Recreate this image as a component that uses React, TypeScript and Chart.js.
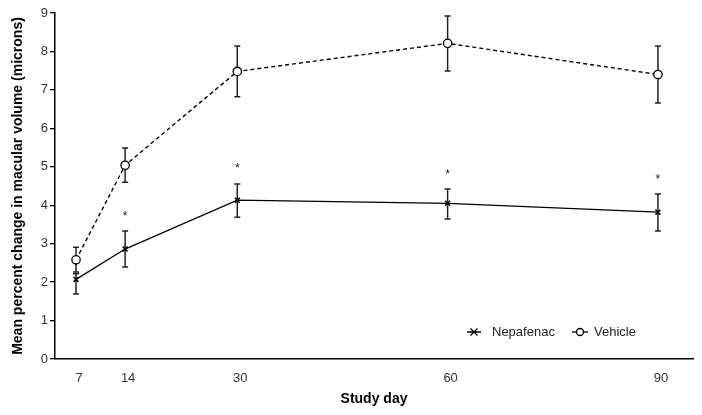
import React, { useEffect, useRef } from "react";
import { Chart, registerables } from "chart.js";

Chart.register(...registerables);

const days = [7, 14, 30, 60, 90];
const xTickValues = [7, 14, 30, 60, 90];
const nepafenacMean = [2.07, 2.86, 4.13, 4.05, 3.82];
const nepafenacLow = [1.69, 2.39, 3.69, 3.64, 3.33];
const nepafenacHigh = [2.22, 3.33, 4.55, 4.42, 4.29];
const vehicleMean = [2.58, 5.04, 7.48, 8.21, 7.4];
const vehicleLow = [2.26, 4.6, 6.82, 7.49, 6.66];
const vehicleHigh = [2.91, 5.49, 8.14, 8.92, 8.14];
const starDays = [14, 30, 60, 90];
const starValues = [3.75, 4.99, 4.84, 4.71];
const seriesNames = ["Nepafenac", "Vehicle"];

const FONT = "'Liberation Sans', Arial, sans-serif";

const errorBarPlugin = {
  id: "errorBars",
  beforeDatasetsDraw(chart: any) {
    const { ctx, scales } = chart;
    const x = scales.x;
    const y = scales.y;
    const sets = [
      [nepafenacLow, nepafenacHigh],
      [vehicleLow, vehicleHigh],
    ];
    ctx.save();
    ctx.strokeStyle = "#222";
    ctx.lineWidth = 1.5;
    sets.forEach(([lo, hi]) => {
      days.forEach((d, i) => {
        const px = x.getPixelForValue(d);
        const y1 = y.getPixelForValue(lo[i]);
        const y2 = y.getPixelForValue(hi[i]);
        ctx.beginPath();
        ctx.moveTo(px, y1);
        ctx.lineTo(px, y2);
        ctx.moveTo(px - 3, y1);
        ctx.lineTo(px + 3, y1);
        ctx.moveTo(px - 3, y2);
        ctx.lineTo(px + 3, y2);
        ctx.stroke();
      });
    });
    ctx.restore();
  },
  afterDraw(chart: any) {
    const { ctx, scales } = chart;
    const x = scales.x;
    const y = scales.y;
    ctx.save();
    // significance asterisks
    ctx.fillStyle = "#222";
    ctx.font = `12px ${FONT}`;
    ctx.textAlign = "center";
    ctx.textBaseline = "middle";
    starDays.forEach((d, i) => {
      ctx.fillText("*", x.getPixelForValue(d), y.getPixelForValue(starValues[i]) + 2);
    });
    // legend
    const ly = 332;
    ctx.strokeStyle = "#000";
    ctx.lineWidth = 1.3;
    ctx.setLineDash([]);
    // Nepafenac
    let mx = 474;
    ctx.beginPath();
    ctx.moveTo(mx - 7, ly);
    ctx.lineTo(mx + 7, ly);
    ctx.moveTo(mx - 3.5, ly - 3.5);
    ctx.lineTo(mx + 3.5, ly + 3.5);
    ctx.moveTo(mx - 3.5, ly + 3.5);
    ctx.lineTo(mx + 3.5, ly - 3.5);
    ctx.stroke();
    // Vehicle
    mx = 580;
    ctx.beginPath();
    ctx.moveTo(mx - 8, ly);
    ctx.lineTo(mx + 8, ly);
    ctx.stroke();
    ctx.beginPath();
    ctx.fillStyle = "#fff";
    ctx.arc(mx, ly, 3.5, 0, Math.PI * 2);
    ctx.fill();
    ctx.stroke();
    ctx.fillStyle = "#222";
    ctx.font = `13px ${FONT}`;
    ctx.textAlign = "left";
    ctx.textBaseline = "middle";
    ctx.fillText(seriesNames[0], 492, ly);
    ctx.fillText(seriesNames[1], 594, ly);
    ctx.restore();
  },
};

export default function App() {
  const canvasRef = useRef<HTMLCanvasElement | null>(null);

  useEffect(() => {
    if (!canvasRef.current) return;
    const chart = new Chart(canvasRef.current, {
      type: "line",
      data: {
        datasets: [
          {
            label: seriesNames[0],
            data: days.map((d, i) => ({ x: d, y: nepafenacMean[i] })),
            borderColor: "#000",
            backgroundColor: "#000",
            borderWidth: 1.3,
            pointStyle: "crossRot",
            pointRadius: 3.5,
            pointBorderWidth: 1.5,
            pointBorderColor: "#000",
            tension: 0,
          },
          {
            label: seriesNames[1],
            data: days.map((d, i) => ({ x: d, y: vehicleMean[i] })),
            borderColor: "#000",
            backgroundColor: "#fff",
            borderWidth: 1.4,
            borderDash: [4, 3],
            pointStyle: "circle",
            pointRadius: 4.2,
            pointBorderWidth: 1.3,
            pointBorderColor: "#000",
            pointBackgroundColor: "#fff",
            tension: 0,
          },
        ],
      },
      options: {
        animation: false,
        responsive: false,
        layout: { padding: { top: 13, right: 9, left: 0, bottom: 0 } },
        plugins: {
          legend: { display: false },
          tooltip: { enabled: false },
        },
        scales: {
          x: {
            type: "linear",
            min: 4,
            max: 95,
            afterBuildTicks: (scale: any) => {
              scale.ticks = xTickValues.map((v) => ({ value: v }));
            },
            afterFit: (scale: any) => {
              scale.height = 56;
            },
            grid: { display: false, drawTicks: false },
            border: { display: true, color: "#000", width: 1.5 },
            ticks: {
              color: "#333",
              font: { family: FONT, size: 13 },
              padding: 12,
              labelOffset: 3,
              maxRotation: 0,
              autoSkip: false,
            },
            title: {
              display: true,
              text: "Study day",
              color: "#000",
              font: { family: FONT, size: 14, weight: "bold" },
              padding: { top: 0, bottom: 7 },
            },
          },
          y: {
            min: 0,
            max: 9,
            afterFit: (scale: any) => {
              scale.width = 55;
            },
            grid: {
              drawOnChartArea: false,
              drawTicks: true,
              tickLength: 5,
              color: "#000",
              lineWidth: 1.3,
            },
            border: { display: true, color: "#000", width: 1.5 },
            ticks: {
              stepSize: 1,
              color: "#333",
              font: { family: FONT, size: 13 },
              padding: 2,
            },
            title: {
              display: true,
              text: "Mean percent change in macular volume (microns)",
              color: "#000",
              font: { family: FONT, size: 14, weight: "bold" },
              padding: { top: 10, bottom: 0 },
            },
          },
        },
      },
      plugins: [errorBarPlugin],
    } as any);
    return () => chart.destroy();
  }, []);

  return (
    <div style={{ position: "fixed", left: 0, top: 0, width: 702, height: 415, background: "#fff" }}>
      <canvas ref={canvasRef} width={702} height={415} style={{ width: 702, height: 415, display: "block" }} />
    </div>
  );
}
